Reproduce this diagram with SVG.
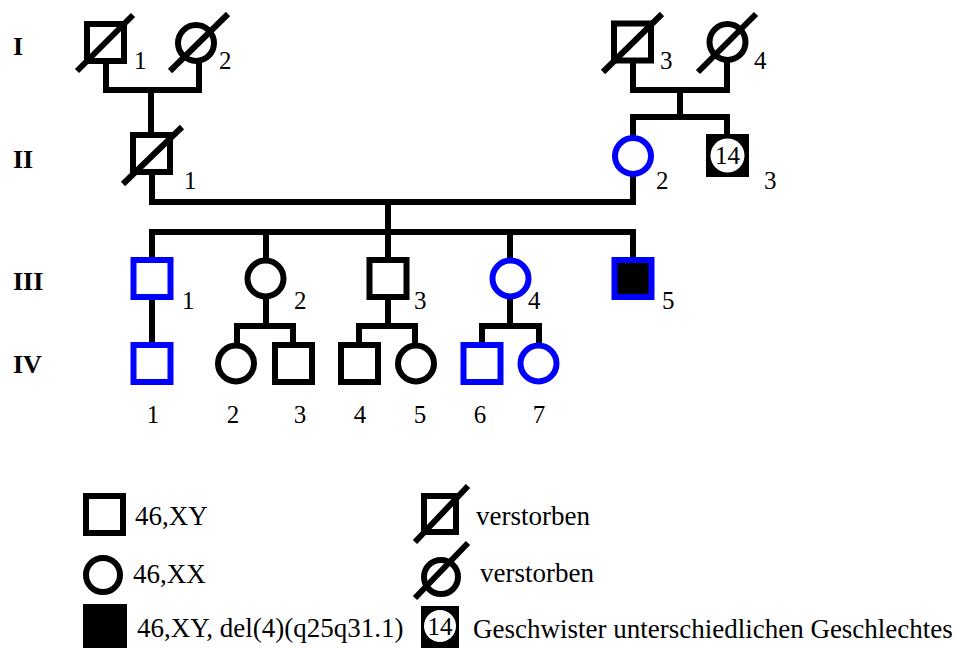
<svg xmlns="http://www.w3.org/2000/svg" width="961" height="648" viewBox="0 0 961 648">
<style>
.s{fill:none;stroke:#000;stroke-width:6}
.b{fill:none;stroke:#0000ff;stroke-width:6}
.w{fill:#fff}
.ln{stroke:#000;stroke-width:6;fill:none;stroke-linecap:square}
.d{stroke:#000;stroke-width:6}
text{font-family:"Liberation Serif","Times New Roman",serif;fill:#000}
.n{font-size:25px}
.g{font-size:26px;font-weight:bold}
.l{font-size:27px}
.c{text-anchor:middle}
</style>
<rect width="961" height="648" fill="#fff"/>
<g id="connectors" class="ln">
<path d="M106 64V90H199V64M151 90V135"/>
<path d="M633 63V90H727V63M680 90V117M633 135V117H727V134"/>
<path d="M152 172V202H633V177M388 202V232"/>
<path d="M152 257V232H633V257M266 232V257M388 232V257M510 232V257"/>
<path d="M152 300V342"/>
<path d="M266 300V326M237 342V326H293V342"/>
<path d="M388 300V326M359 342V326H415V342"/>
<path d="M510 300V326M482 342V326H539V342"/>
</g>
<g id="gen-labels" class="g">
<text x="13" y="55">I</text>
<text x="13" y="168">II</text>
<text x="13" y="290">III</text>
<text x="13" y="373">IV</text>
</g>
<g id="I-1"><rect x="87" y="24" width="37" height="37" class="s"/><line x1="77" y1="71" x2="133" y2="15" class="d"/><text class="n" x="134" y="69">1</text></g>
<g id="I-2"><circle cx="196" cy="43" r="18" class="s"/><line x1="170" y1="71" x2="228" y2="14" class="d"/><text class="n" x="219" y="69">2</text></g>
<g id="I-3"><rect x="614" y="23.5" width="37" height="37" class="s"/><line x1="603" y1="72" x2="662" y2="14" class="d"/><text class="n" x="660" y="69">3</text></g>
<g id="I-4"><circle cx="727.5" cy="42" r="18" class="s"/><line x1="698" y1="72" x2="756" y2="14" class="d"/><text class="n" x="754" y="69">4</text></g>
<g id="II-1"><rect x="133" y="135" width="37" height="37" class="s"/><line x1="123" y1="184" x2="182" y2="127" class="d"/><text class="n" x="184" y="189">1</text></g>
<g id="II-2"><circle cx="633" cy="156" r="18" class="b"/><text class="n" x="656" y="189">2</text></g>
<g id="II-3"><rect x="706" y="134" width="43" height="43" fill="#000"/><circle cx="727.5" cy="155.5" r="17" class="w"/><text class="n c" x="727.5" y="164">14</text><text class="n" x="764" y="189">3</text></g>
<g id="III-1"><rect x="133.5" y="260" width="37" height="37" class="b"/><text class="n" x="182" y="309">1</text></g>
<g id="III-2"><circle cx="265.5" cy="278.5" r="18" class="s"/><text class="n" x="294" y="309">2</text></g>
<g id="III-3"><rect x="369.5" y="260" width="37" height="37" class="s"/><text class="n" x="414" y="309">3</text></g>
<g id="III-4"><circle cx="510.5" cy="278.5" r="18" class="b"/><text class="n" x="528" y="309">4</text></g>
<g id="III-5"><rect x="614.5" y="260" width="37" height="37" fill="#000" stroke="#0000ff" stroke-width="6"/><text class="n" x="662" y="309">5</text></g>
<g id="IV-1"><rect x="133.5" y="345" width="37" height="37" class="b"/><text class="n c" x="153" y="423">1</text></g>
<g id="IV-2"><circle cx="236" cy="363.5" r="18" class="s"/><text class="n c" x="233" y="423">2</text></g>
<g id="IV-3"><rect x="275" y="345" width="37" height="37" class="s"/><text class="n c" x="300" y="423">3</text></g>
<g id="IV-4"><rect x="341" y="345" width="37" height="37" class="s"/><text class="n c" x="360" y="423">4</text></g>
<g id="IV-5"><circle cx="416" cy="363.5" r="18" class="s"/><text class="n c" x="420" y="423">5</text></g>
<g id="IV-6"><rect x="463.5" y="345" width="37" height="37" class="b"/><text class="n c" x="480" y="423">6</text></g>
<g id="IV-7"><circle cx="538.5" cy="363.5" r="18" class="b"/><text class="n c" x="539" y="423">7</text></g>
<g id="legend">
<g id="leg-male"><rect x="86" y="496" width="37" height="37" class="s"/><text class="l" x="135" y="525">46,XY</text></g>
<g id="leg-female"><circle cx="103" cy="575" r="17" class="s"/><text class="l" x="133" y="583">46,XX</text></g>
<g id="leg-affected"><rect x="83" y="604" width="44" height="44" fill="#000"/><text class="l" x="137" y="637">46,XY, del(4)(q25q31.1)</text></g>
<g id="leg-dec-male"><rect x="424" y="496" width="32" height="36" class="s"/><line x1="415" y1="542" x2="468" y2="486" class="d"/><text class="l" x="476" y="525">verstorben</text></g>
<g id="leg-dec-female"><circle cx="441" cy="577" r="17" class="s"/><line x1="415" y1="598" x2="468" y2="543" class="d"/><text class="l" x="480" y="582">verstorben</text></g>
<g id="leg-sibs"><rect x="421" y="606" width="38" height="42" fill="#000"/><circle cx="440" cy="626" r="16" class="w"/><text class="n c" x="440" y="635">14</text><text class="l" x="473" y="638">Geschwister unterschiedlichen Geschlechtes</text></g>
</g>
</svg>
